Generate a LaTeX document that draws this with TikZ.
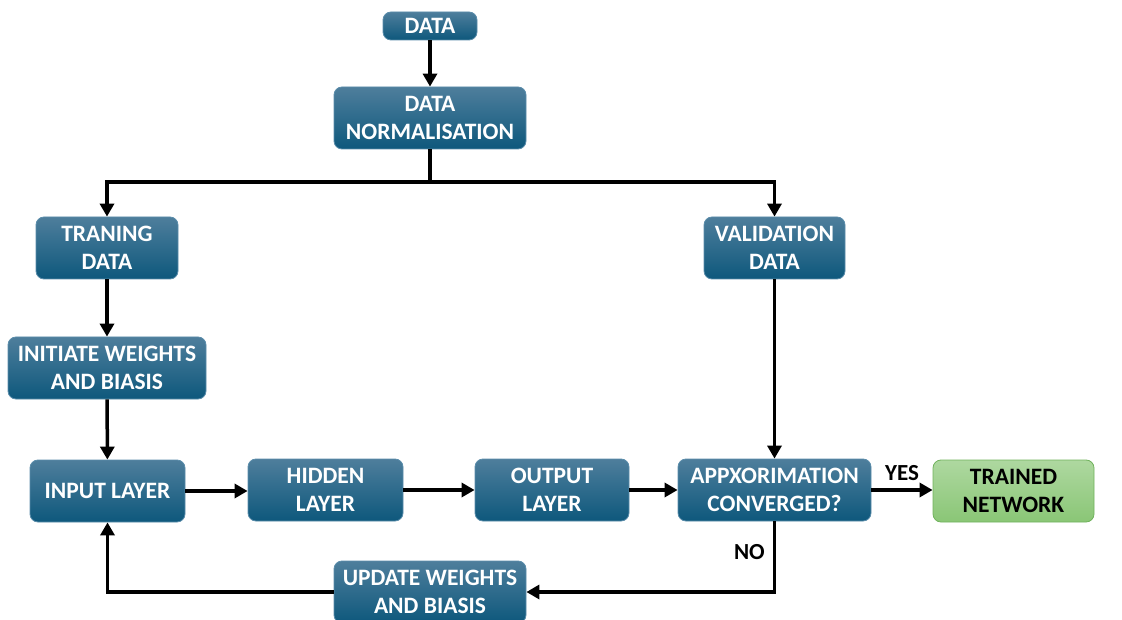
\documentclass[tikz,border=0pt]{standalone}
\usepackage{fontspec}
\setmainfont{Carlito}
\usetikzlibrary{arrows.meta}
\definecolor{boxtop}{RGB}{78,126,156}
\definecolor{boxbot}{RGB}{14,88,124}
\definecolor{boxedge}{RGB}{90,140,170}
\definecolor{greentop}{RGB}{174,216,160}
\definecolor{greenbot}{RGB}{138,198,118}
\definecolor{greenedge}{RGB}{112,178,92}
\tikzset{
  x=1pt, y=-1pt,
  flowbox/.style={rounded corners=8pt, draw=boxedge, line width=0.8pt,
    top color=boxtop, middle color=boxbot, bottom color=boxbot,
    text=white, font=\fontsize{23.5}{28}\selectfont\bfseries,
    align=center, inner sep=0pt, minimum height=62pt},
  endbox/.style={flowbox, draw=greenedge, top color=greentop,
    middle color=greenbot!80!greentop, bottom color=greenbot, text=black},
  flow/.style={line width=3.5pt, -{Triangle[length=13pt,width=14pt]}},
  flowline/.style={line width=3.5pt},
  tag/.style={font=\fontsize{23}{26}\selectfont\bfseries, inner sep=0pt}
}
\begin{document}
\begin{tikzpicture}
\useasboundingbox (0,0) rectangle (1122,620);
% boxes
\node[flowbox, minimum width=94pt, minimum height=28pt] (data) at (430,26) {DATA};
\node[flowbox, minimum width=192pt] (norm) at (430,118) {DATA\\NORMALISATION};
\node[flowbox, minimum width=142pt] (train) at (107,248) {TRANING\\DATA};
\node[flowbox, minimum width=141pt] (valid) at (774.5,248) {VALIDATION\\DATA};
\node[flowbox, minimum width=198pt] (init) at (107,368) {INITIATE WEIGHTS\\AND BIASIS};
\node[flowbox, minimum width=155pt] (input) at (107.5,491) {INPUT LAYER};
\node[flowbox, minimum width=155pt] (hidden) at (325.5,490) {HIDDEN\\LAYER};
\node[flowbox, minimum width=154pt] (output) at (552,490) {OUTPUT\\LAYER};
\node[flowbox, minimum width=193pt] (appx) at (774.5,490) {APPXORIMATION\\CONVERGED?};
\node[endbox, minimum width=161pt] (trained) at (1013.5,491) {TRAINED\\NETWORK};
\node[flowbox, minimum width=192pt] (update) at (430,592) {UPDATE WEIGHTS\\AND BIASIS};
% connectors
\coordinate (split) at (430,182);
\draw[flow] (data) -- (norm);
\draw[flowline] (norm.south) -- (split);
\draw[flow] (split) -| (train.north);
\draw[flow] (split) -| (valid.north);
\draw[flow] (train) -- (init);
\draw[flow] (init) -- (input);
\draw[flow] (input.east) -- (hidden.west |- input.east);
\draw[flow] (hidden) -- (output);
\draw[flow] (output) -- (appx);
\draw[flow] (valid) -- (appx);
\draw[flow] (appx) -- (trained.west |- appx.east) node[tag, pos=0.5, above=8pt] {YES};
\draw[flow] (appx.south) |- (update.east) node[tag, pos=0.22, left=8pt] {NO};
\draw[flow] (update.west) -| (input.south);
\end{tikzpicture}
\end{document}
